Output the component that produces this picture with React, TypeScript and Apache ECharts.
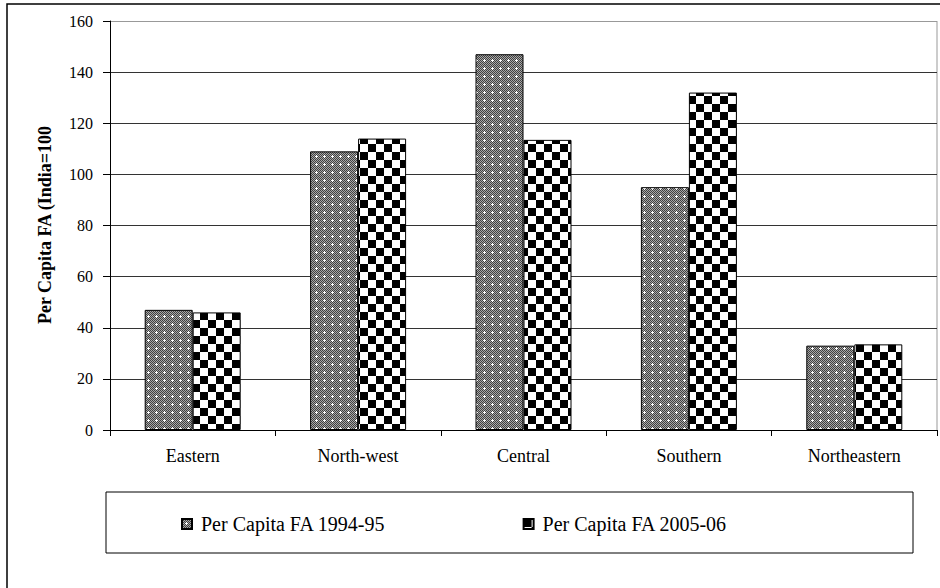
import React, { useEffect, useRef } from "react";
import * as echarts from "echarts";

const categories = ["Eastern", "North-west", "Central", "Southern", "Northeastern"];
const series1994 = [47, 109, 147, 95, 33];
const series2005 = [46, 114, 113.5, 132, 33.5];
const seriesNames = ["Per Capita FA 1994-95", "Per Capita FA 2005-06"];
const yTicks = { min: 0, max: 160, interval: 20 };
const yAxisTitle = "Per Capita FA (India=100";

function makeGrayPattern(): HTMLCanvasElement {
  const c = document.createElement("canvas");
  c.width = 8;
  c.height = 8;
  const ctx = c.getContext("2d")!;
  for (let y = 0; y < 8; y++) {
    for (let x = 0; x < 8; x++) {
      ctx.fillStyle = (x + y) % 2 === 0 ? "#404040" : "#a8a8a8";
      ctx.fillRect(x, y, 1, 1);
    }
  }
  ctx.fillStyle = "#ffffff";
  ctx.fillRect(4, 4, 1, 1);
  ctx.fillRect(3, 4, 1, 1);
  ctx.fillRect(5, 4, 1, 1);
  ctx.fillRect(4, 3, 1, 1);
  ctx.fillRect(4, 5, 1, 1);
  return c;
}

function makeCheckerPattern(): HTMLCanvasElement {
  const c = document.createElement("canvas");
  c.width = 16;
  c.height = 16;
  const ctx = c.getContext("2d")!;
  ctx.fillStyle = "#ffffff";
  ctx.fillRect(0, 0, 16, 16);
  ctx.fillStyle = "#000000";
  ctx.fillRect(0, 0, 8, 8);
  ctx.fillRect(8, 8, 8, 8);
  return c;
}

export default function App() {
  const ref = useRef<HTMLDivElement>(null);
  useEffect(() => {
    if (!ref.current) return;
    const chart = echarts.init(ref.current, undefined, { renderer: "svg" });
    const gray = { image: makeGrayPattern(), repeat: "repeat" } as any;
    const checker = { image: makeCheckerPattern(), repeat: "repeat" } as any;
    const font = "Liberation Serif";
    const splitColors = ["#333", "#333", "#333", "#333", "#333", "#333", "#333", "#333", "#999"];
    chart.setOption({
      animation: false,
      backgroundColor: "#ffffff",
      textStyle: { fontFamily: font, color: "#000" },
      grid: { left: 110, top: 21, right: 3, bottom: 158, show: false },
      legend: {
        left: 181,
        top: 514,
        itemWidth: 10,
        itemHeight: 10,
        itemGap: 137,
        icon: "rect",
        padding: 0,
        textStyle: { fontFamily: font, fontSize: 20, color: "#000", padding: [0, 0, 0, 4] },
        data: seriesNames,
      },
      xAxis: {
        type: "category",
        data: categories,
        axisLine: { lineStyle: { color: "#000", width: 1 } },
        axisTick: { show: true, length: 6, lineStyle: { color: "#000" } },
        axisLabel: { fontFamily: font, fontSize: 18, color: "#000", margin: 17 },
      },
      yAxis: {
        type: "value",
        min: yTicks.min,
        max: yTicks.max,
        interval: yTicks.interval,
        axisLine: { show: true, lineStyle: { color: "#000", width: 1 } },
        axisTick: { show: true, length: 7, lineStyle: { color: "#000" } },
        axisLabel: { fontFamily: font, fontSize: 16, color: "#000", margin: 17 },
        splitLine: { show: true, lineStyle: { color: splitColors, width: 1 } },
      },
      graphic: [
        {
          type: "rect",
          shape: { x: 7, y: 4, width: 1000, height: 700 },
          style: { fill: "none", stroke: "#000", lineWidth: 1.5 },
          silent: true,
          z: -1,
        },
        {
          type: "line",
          shape: { x1: 937, y1: 21, x2: 937, y2: 430 },
          style: { stroke: "#999", lineWidth: 1 },
          silent: true,
        },
        {
          type: "rect",
          shape: { x: 106, y: 492, width: 807, height: 61 },
          style: { fill: "none", stroke: "#000", lineWidth: 1 },
          silent: true,
        },
        {
          type: "text",
          x: 45,
          y: 225,
          rotation: Math.PI / 2,
          style: {
            text: yAxisTitle,
            fontFamily: font,
            fontSize: 18,
            fontWeight: "bold",
            fill: "#000",
            align: "center",
            verticalAlign: "middle",
          },
          silent: true,
        },
      ],
      series: [
        {
          name: seriesNames[0],
          type: "bar",
          data: series1994,
          barWidth: 48,
          barGap: "0%",
          itemStyle: { color: gray, borderColor: "#000", borderWidth: 1 },
        },
        {
          name: seriesNames[1],
          type: "bar",
          data: series2005,
          barWidth: 48,
          barGap: "0%",
          itemStyle: { color: checker, borderColor: "#000", borderWidth: 1 },
        },
      ],
    });
    return () => chart.dispose();
  }, []);
  return <div ref={ref} style={{ width: 940, height: 588, position: "absolute", left: 0, top: 0 }} />;
}
